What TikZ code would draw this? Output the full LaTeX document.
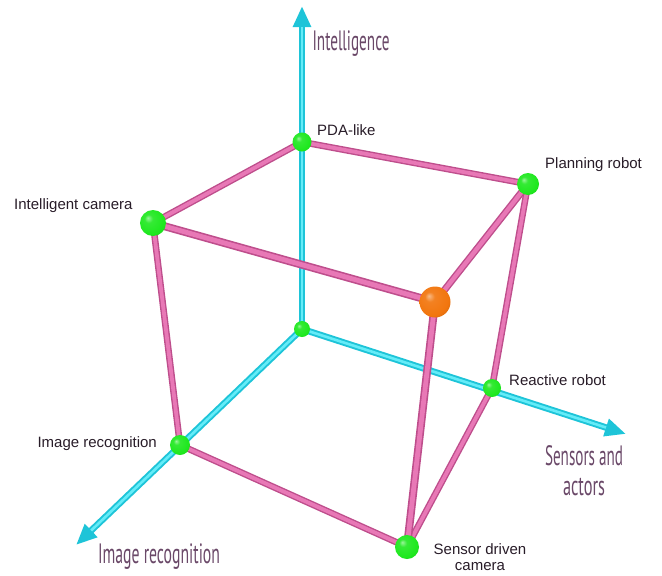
\documentclass[tikz,border=0pt]{standalone}
\usepackage{fontspec}
\usepackage{graphicx}
\setmainfont{Liberation Sans}
\newfontfamily\axisfont{PT Sans}
\usetikzlibrary{arrows.meta}

\definecolor{rodpink}{RGB}{190,78,140}
\definecolor{rodlight}{RGB}{232,120,182}
\definecolor{axiscyan}{RGB}{30,196,216}
\definecolor{axislight}{RGB}{100,236,248}
\definecolor{spheregreen}{RGB}{30,232,30}
\definecolor{sphereorange}{RGB}{242,118,14}
\definecolor{labeltext}{RGB}{40,28,40}
\definecolor{axistext}{RGB}{106,72,104}

% glossy sphere shadings, highlight up and to the left
\pgfdeclareradialshading{greenball}{\pgfpoint{-10bp}{10bp}}{%
  color(0bp)=(spheregreen!45!white);
  color(8bp)=(spheregreen!90!white);
  color(26bp)=(spheregreen);
  color(42bp)=(spheregreen!78!black);
  color(50bp)=(spheregreen!60!black)}
\pgfdeclareradialshading{orangeball}{\pgfpoint{-10bp}{10bp}}{%
  color(0bp)=(sphereorange!50!white);
  color(8bp)=(sphereorange!92!white);
  color(26bp)=(sphereorange);
  color(42bp)=(sphereorange!75!black);
  color(50bp)=(sphereorange!55!black)}

\begin{document}
\begin{tikzpicture}[x=1pt,y=-1pt,
  rod/.style={draw=rodpink, line width=1.4pt, double=rodlight, double distance=3.8pt},
  frontrod/.style={rod, line width=1.6pt, double distance=4.8pt},
  axisline/.style={draw=axiscyan, line width=6.5pt, -{Triangle[length=21pt,width=17pt]}},
  axishi/.style={draw=axislight, line width=2.6pt, shorten >=21pt},
  sphere/.style={circle, inner sep=0pt, shading=greenball},
  lbl/.style={font=\fontsize{15}{16}\selectfont, text=labeltext, inner sep=0pt},
  axlbl/.style={font=\axisfont\fontsize{28}{30}\selectfont, text=axistext, inner sep=0pt, anchor=base}
]
\useasboundingbox (0,0) rectangle (662,576);

% cube corners
\coordinate (o)     at (302,329);
\coordinate (pda)   at (302,142);
\coordinate (plan)  at (528,184);
\coordinate (icam)  at (153,223);
\coordinate (front) at (435,302);
\coordinate (react) at (492,388);
\coordinate (irec)  at (180,445);
\coordinate (sdc)   at (407,547);

% axis arrow ends
\coordinate (tipV) at (302,6);
\coordinate (tipI) at (76,545);
\coordinate (tipS) at (626,434);

% axes
\foreach \t in {tipV,tipI,tipS}{
  \draw[axisline] (o) -- (\t);
  \draw[axishi] (o) -- (\t);
}

% cube edges
\draw[rod] (pda) -- (plan);
\draw[rod] (pda) -- (icam);
\draw[rod] (icam) -- (irec);
\draw[rod] (plan) -- (react);
\draw[rod] (irec) -- (sdc);
\draw[rod] (react) -- (sdc);
\draw[rod, double distance=4.3pt] (front) -- (plan);
\draw[frontrod] (icam) -- (front);
\draw[frontrod] (front) -- (sdc);

% corner spheres
\node[sphere, minimum size=16pt] (oball)     at (o)     {};
\node[sphere, minimum size=19pt] (pdaball)   at (pda)   {};
\node[sphere, minimum size=22pt] (planball)  at (plan)  {};
\node[sphere, minimum size=26pt] (icamball)  at (icam)  {};
\node[sphere, minimum size=18pt] (reactball) at (react) {};
\node[sphere, minimum size=20pt] (irecball)  at (irec)  {};
\node[sphere, minimum size=24pt] (sdcball)   at (sdc)   {};
\node[sphere, shading=orangeball, minimum size=31pt] (frontball) at (front) {};

% corner labels
\node[lbl, anchor=west] (pdalbl)   at (317,130) {PDA-like};
\node[lbl, anchor=west] (planlbl)  at (545,165) {Planning robot};
\node[lbl, anchor=west] (icamlbl)  at (14,206)  {Intelligent camera};
\node[lbl, anchor=west] (reactlbl) at (509,380) {Reactive robot};
\node[lbl, anchor=east] (ireclbl)  at (157,444) {Image recognition};
\node[lbl, align=center] (sdclbl)  at (480,557) {Sensor driven\\camera};

% axis titles
\node[axlbl] (intlbl)  at (351,50)  {\resizebox{77pt}{\height}{Intelligence}};
\node[axlbl] (imglbl)  at (159,563) {\resizebox{122pt}{\height}{Image recognition}};
\node[axlbl] (senslbl) at (584,465) {\resizebox{78pt}{\height}{Sensors and}};
\node[axlbl] (actlbl)  at (584,495) {\resizebox{42pt}{\height}{actors}};
\end{tikzpicture}
\end{document}
